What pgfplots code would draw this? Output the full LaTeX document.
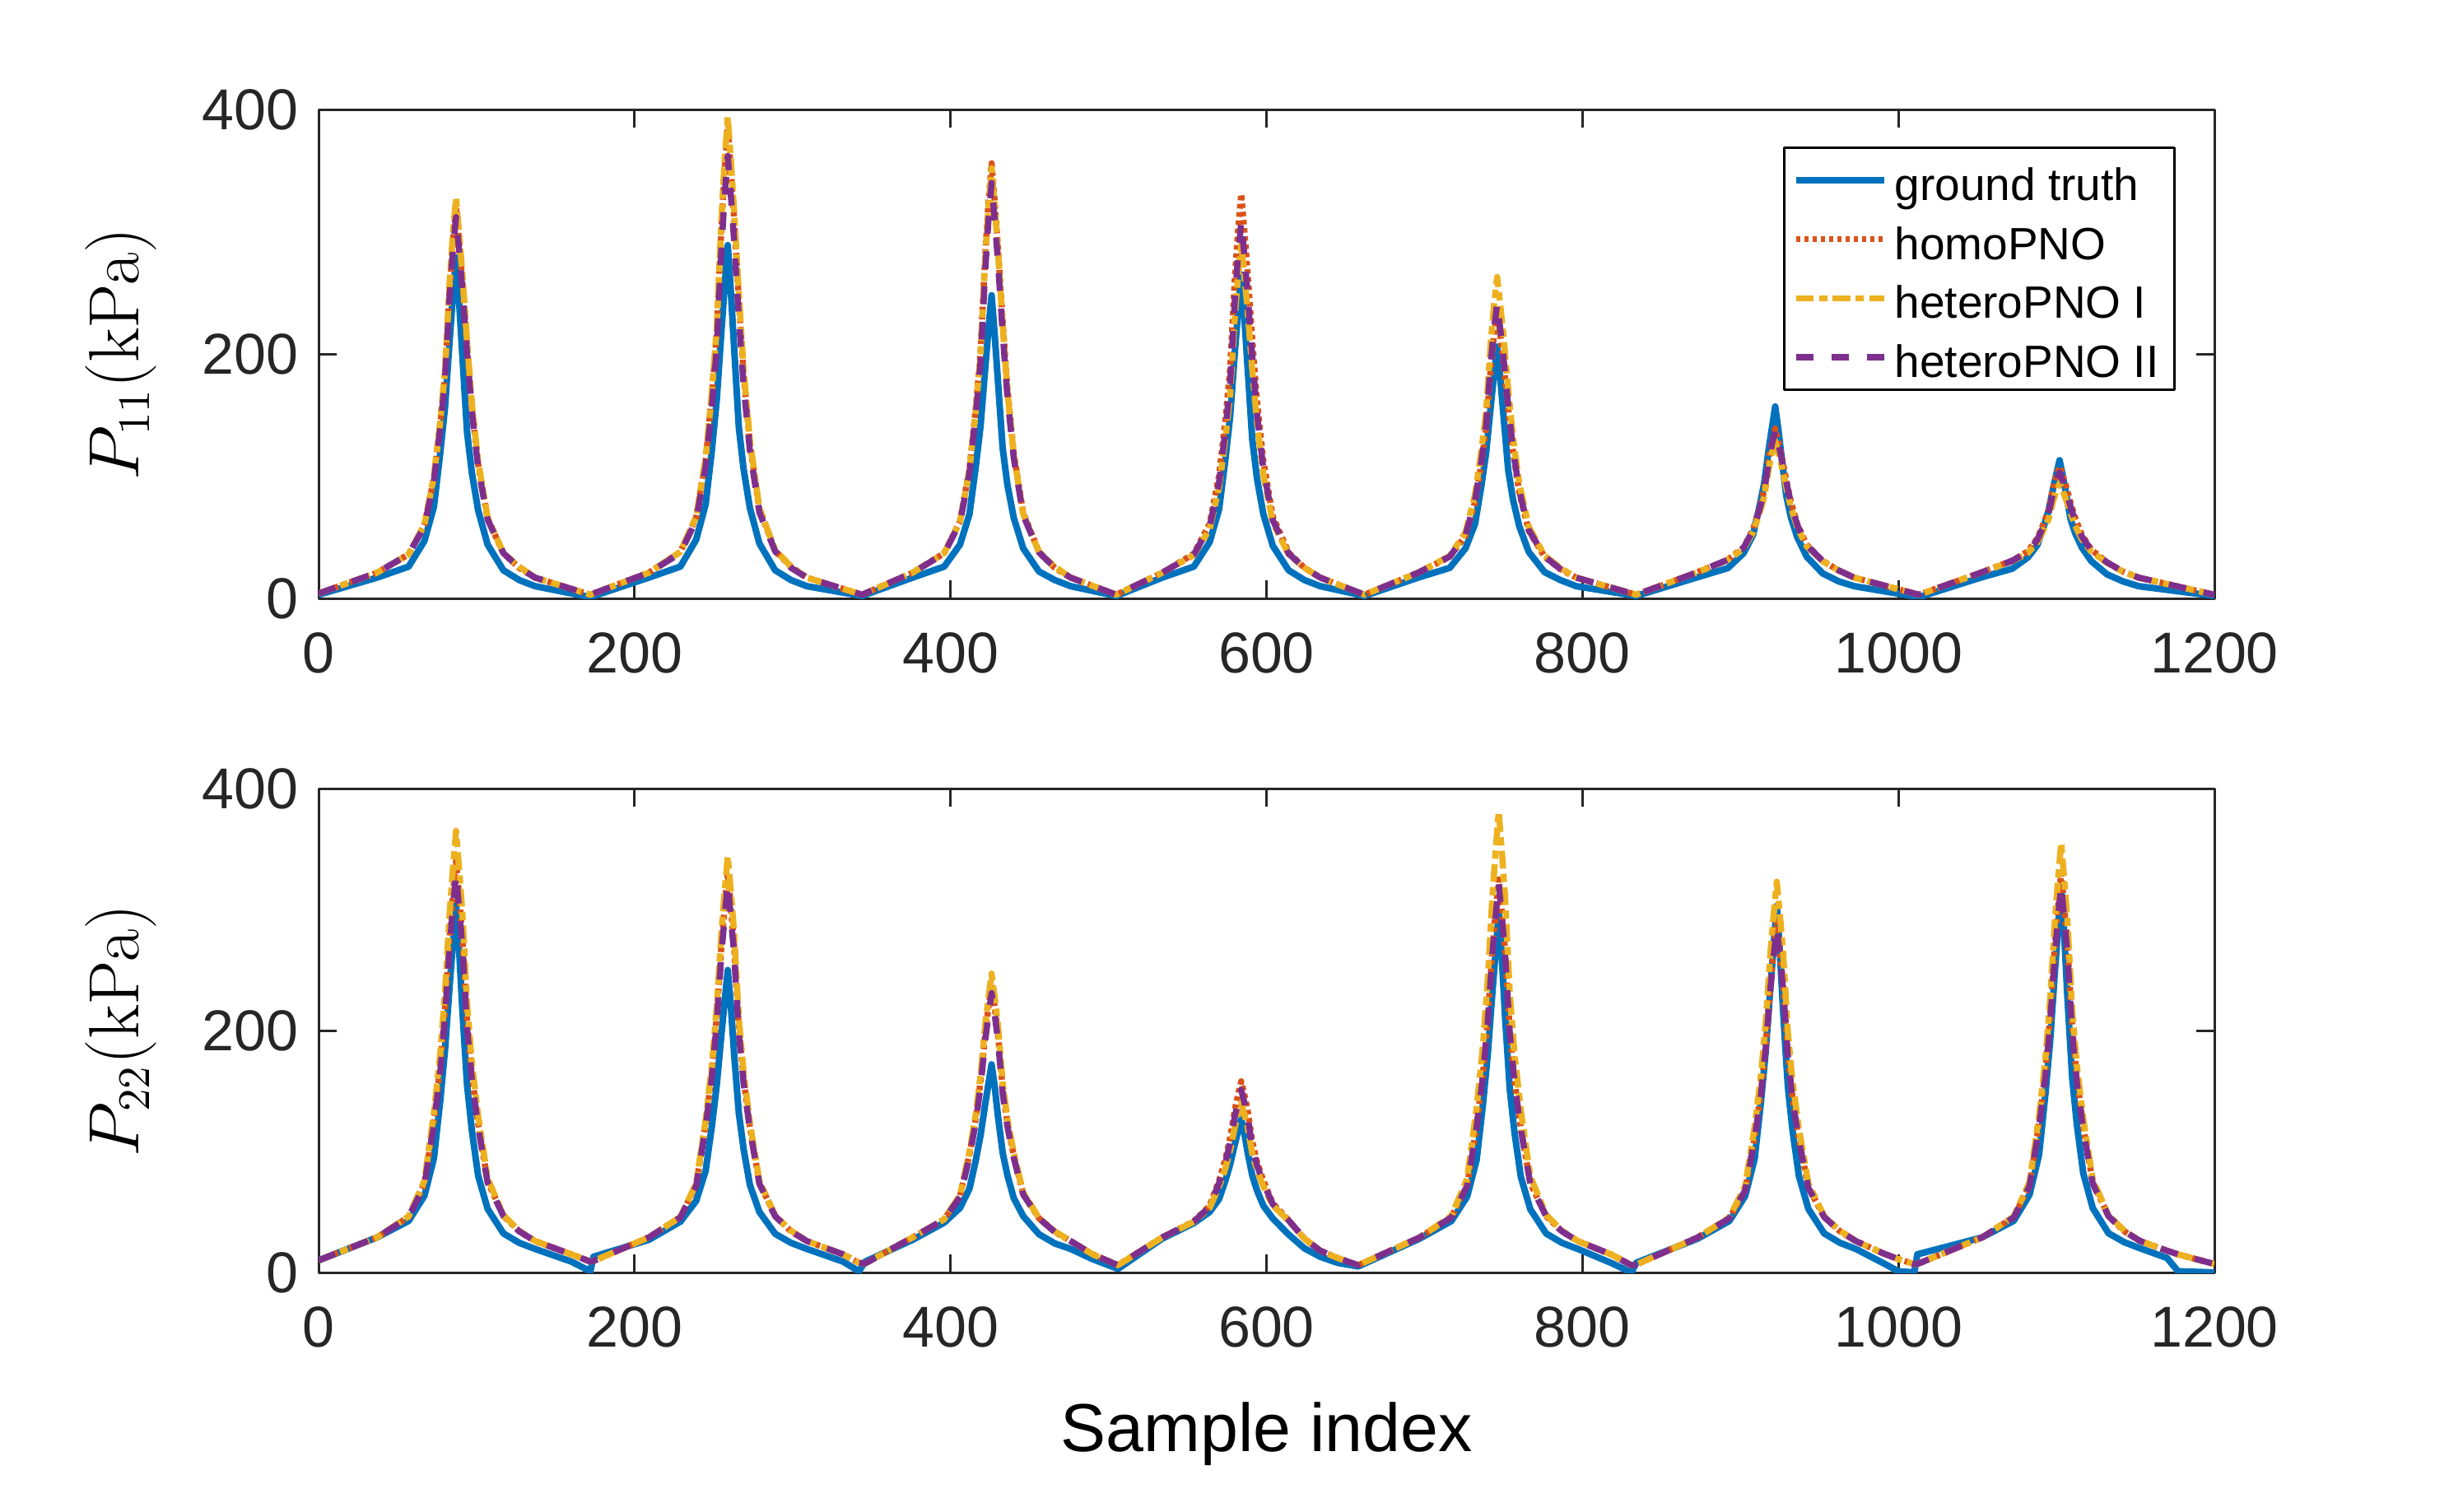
\documentclass[border=0pt]{standalone}
\usepackage[no-math]{fontspec}
\setmainfont{Liberation Sans}
\usepackage{pgfplots}
\usepackage{pgfplotstable}
\pgfplotsset{compat=1.18}

\definecolor{mblue}{rgb}{0,0.447,0.741}
\definecolor{mred}{rgb}{0.85,0.325,0.098}
\definecolor{myellow}{rgb}{0.929,0.694,0.125}
\definecolor{mpurple}{rgb}{0.494,0.184,0.556}
\definecolor{axgray}{rgb}{0.15,0.15,0.15}

% P11 panel: x, ground truth, homoPNO, heteroPNO I, heteroPNO II
\pgfplotstableread{
x gt homo hI hII
0 3 4 4 4
37 17 21 21 21
57 26 36 36 36
67 47 60 60.5 59
73 75 98 100 96
77 119 142 145 139
80 156 182 186 178
83 212 254 260 248
85 247 291 298.5 284
87 279 320 328 312
89 242 291 298.5 284
91 199 260 266 253
94 136 205 210 200
97 103 156 160 153
101 72 110 112 107
107 44 65 66 64.5
117 23 37 37 37
127 15 25 26 25
137 10 17 17 17
172 1 3 3 3
209 17 21 21 21
229 26 38 38 37
239 48 66 67 64
245 77 113 115 108
249 122 167 170 158
252 162 216 221 204
255 219 304 311 286
257 255 350 358 329
259 289 385 394 362
261 250 350 358 329
263 206 311 318 293
266 140 244 250 230
269 106 184 188 174.5
273 74 127 129.5 121
279 45 73 74 70.5
289 23 39 39.6 38.5
299 15 26 26 25
309 10 17 17 17
344 2 3 3 3
376 17 21 21 21
396 26 37 37 36.7
406 44 63 63 62
412 69 106 105 103
416 108 156 154 150
419 141 201 199 193
422 189 282 279 269
424 220 324 320 309
426 248 356 352 340
428 215 324 320 309
430 178 288 285 276
433 123 227 224 217
436 93 172 170 165
440 66 119 118 115
446 41 70 69 68
456 22 38 38 37.7
466 15 25 26 25
476 10 17 17 17
505 2 3 3 3
534 17 21 21 21
554 26 36.5 35.4 35.9
564 46 61 56.7 58.5
570 73 100.5 91 95
574 114 146 130.7 137.5
577 149 188 166.6 176
580 202 262.5 231 244.8
582 234 301 264 280.5
584 265 331 290 308
586 230 301 264 280.5
588 190 268 236 250
591 130 212 187 198
594 98 161 143.5 151
598 69 112.5 101.4 106
604 43 67 61.8 64
614 23 37.4 36 36.6
624 15 25 25 25
634 10 17 17 17
662 2 3 3 3
696 17 21 21 21
716 25 34 34.8 34.2
726 41 51.3 54 51.8
732 61 78.7 84.9 79.8
736 92 110 120.4 112
739 119 138.6 152.6 141
742 158 189 210 193
744 183 215.7 240 220
746 206 236 263 241
748 180 215.7 240 220
750 150 193 214.7 197
753 105 154.8 171 157.8
756 81 120.3 132 122.4
760 59 86.8 94 88
766 38 55.4 58.6 56
776 21.5 34.1 35 34.3
786 15 24 25 24
796 10 17 17 17
834 2 3 3 3
872 17 21 21 21
892 24.8 31.7 31.4 31.6
902 37 41.6 40.6 41.4
908 52 56.4 54 55.9
912 75 73.3 69.5 72.5
915 94 88 83 87
918 123 114.6 107 113
920 140 128.4 119.4 126.6
922 157 139 129 137
924 138 128.4 119.4 126.6
926 116 116.7 108.8 115
929 84 96.6 90.6 95.4
932 66 78.6 74.3 77.7
936 50 60.6 58 60
942 34 43.7 42.5 43.5
952 20.5 30.7 30.4 30.6
962 14 23 23 23
972 10 17 17 17
1013 1 3 3 3
1052 17 21 21 21
1072 24.3 30.9 30.5 30.8
1082 33.6 38.5 37.1 38
1088 43.8 49.3 46 48.1
1092 58.9 61.5 56.2 59.6
1095 71.8 72 64.7 69.4
1098 90.6 90.8 80 86.9
1100 102 100.5 87.9 96
1102 113 108 94 103
1104 100.5 100.5 87.9 96
1106 86.4 92.3 81.2 88.3
1109 64.7 78 69.6 75
1112 52.9 65.3 59.2 63.1
1116 41.9 52.3 48.5 50.9
1122 30.6 40 38.3 39.4
1132 19.7 29.6 29.1 29.5
1142 14 22 22 22
1152 10 17 17 17
1200 2 3 3 3
}\toptab

% P22 panel
\pgfplotstableread{
x gt homo hI hII
0 10 10 10 10
37 29 29 29 29
57 42.6 45.9 46.4 45.6
67 63.4 73.3 75.8 72.2
73 94.5 125 132 122
77 142 170 180.6 165.4
80 183.7 217 231.4 210.6
83 238 278.5 298 269.8
85 271.5 310.7 333 300.8
87 305 340 365 329
89 266.3 310.7 333 300.8
91 217.3 278.5 298 269.8
94 155 208 222 202
97 117.7 164 174 159.8
101 80 123 129.7 120.3
107 52.6 75.3 77.8 74.2
117 32.3 46.9 47.4 46.6
127 24.5 34 34.5 34
137 19.5 26 26 26
160 9 15 15 15
172 1 9 9 9
174 13 9.5 9.5 9.5
209 27 29 29 29
229 42 45.7 45.9 45.5
239 59.2 72.3 73.7 71.4
245 84 122.4 126.2 120
249 121.5 165.9 171.7 162
252 154.6 211 219.3 206
255 197 270.6 281.6 263.5
257 223.6 301.7 314.3 293.6
259 250 330 344 321
261 219.6 301.7 314.3 293.6
263 181 270.6 281.6 263.5
266 131.8 202.7 210.4 197.7
269 102.3 160.2 165.8 156.6
273 72.4 120.6 124.2 118.2
279 50.1 74.3 75.7 73.4
289 32 46.7 47 46.5
299 24.5 34 34.5 34
309 19.5 26 26 26
332 9 15 15 15
342 1 8 8 8
346 9 7.5 7.5 7.5
376 27 29 29 29
396 41.2 43.8 44 43.7
406 53.4 63.1 64 62.4
412 69.3 97.6 100 95.7
416 92.8 127.2 131 124.3
419 113.3 157.8 163 153.7
422 139.5 197.9 205 192.4
424 155.8 218.9 227 212.6
426 172 238 247 231
428 153.3 218.9 227 212.6
430 129.5 197.9 205 192.4
433 99 152 157 148.2
436 80.5 123.4 127 120.6
440 61.5 96.7 99 94.8
446 46.6 65.1 66 64.4
456 31.6 44.8 45 44.7
466 24 33.5 34 33.5
476 19.5 26 26 26
490 11 15 15 15
506 3 6 6 6
534 28 29 29 29
554 40.8 42.2 41.9 42.1
564 50 55.1 53.3 54.4
570 60.7 76 71.1 74
574 76.1 93.6 86 90.7
577 89.4 111.4 101 107.3
580 106.2 134.7 120.5 129.2
582 116.6 146.9 130.7 140.6
584 127 158 140 151
586 115 146.9 130.7 140.6
588 99.8 134.7 120.5 129.2
591 80.1 108 98 104.2
594 67.9 91.4 84.2 88.6
598 55.2 75.9 71.2 74
604 44.6 57.1 55.3 56.4
614 31.4 43.2 42.9 43.1
624 20 28 28 28
634 13 18 18 18
645 8 12 12 12
658 5 6 6 6
697 28 29 29 29
717 42.5 45.6 46.7 45.5
727 62.75 71.8 77.4 71.4
733 93 121 136.2 120
737 139 163.8 187.3 162
740 179.5 208.2 240.7 206
743 232 266.6 310.9 263.5
745 264.5 297.2 347.6 293.6
747 297 325 381 321
749 259.5 297.2 347.6 293.6
751 212 266.6 310.9 263.5
754 151.5 199.9 230.7 197.7
757 115.5 158.2 180.6 156.6
761 79 119.3 133.8 118.2
767 52.25 73.8 79.4 73.4
777 32.25 46.6 47.7 46.5
787 24.5 34 34.5 34
797 19.5 26 26 26
818 8 15 15 15
831 0 6 6 6
834 8 6.5 6.5 6.5
873 28 29 29 29
893 42.6 44.9 45.5 44.8
903 63.2 68.3 71.6 67.8
909 94.1 111.6 120.5 110.3
913 141.2 149 163 147
916 182.7 188 207 185
919 236.4 239 265 235
921 269.7 265.7 295.4 261
923 303 290 323 285
925 264.6 265.7 295.4 261
927 216 239 265 235
930 154 180.7 198.8 178
933 117.2 144.2 157.4 142.2
937 79.8 110.2 118.8 108.9
943 52.5 70.3 73.6 69.8
953 32.3 45.9 46.5 45.8
963 24.5 34 34.5 34
973 19.5 26 26 26
990 8 16 16 16
1000 1 11 11 11
1010 0 7 7 7
1012 15 7 7 7
1053 29 29 29 29
1073 42.7 45.7 46.2 45.5
1083 64.4 72.3 74.8 71.3
1089 97.2 122.4 129.2 119.7
1093 147.1 165.9 176.4 161.7
1096 191 211 225.6 205.3
1099 248.3 270.6 290.3 262.7
1101 283.6 301.7 324.2 292.7
1103 319 330 355 320
1105 278.2 301.7 324.2 292.7
1107 226.5 270.6 290.3 262.7
1110 160.7 202.7 216.4 197
1113 121.7 160.2 170.2 156.2
1117 82 120.6 127 118
1123 53.2 74.3 76.8 73.3
1133 32.4 46.7 47.2 46.5
1143 25 34 34.5 34
1153 20 26 26 26
1170 12 18 18 18
1177 1 15 15 15
1200 0 7 7 7
}\bottab

\pgfplotsset{
  panel/.style={
    scale only axis, width=460.6pt,
    xmin=0, xmax=1200, ymin=0, ymax=400,
    xtick={0,200,...,1200}, ytick={0,200,400},
    tick align=inside, tick pos=both,
    major tick length=4.4pt,
    every tick/.style={axgray, line width=0.6pt},
    axis line style={axgray, line width=0.6pt},
    tick label style={font=\fontsize{14}{16}\selectfont, text=axgray},
    xticklabel style={inner sep=0pt, yshift=-8.2pt},
    yticklabel style={inner sep=0pt, xshift=-4.8pt},
    /pgf/number format/assume math mode=true,
    /pgf/number format/set thousands separator={},
    scaled ticks=false,
    ylabel style={at={(axis description cs:-0.1042,0.5)}, anchor=center,
      font=\fontsize{16}{19}\selectfont},
    line join=round,
  },
  gtline/.style={mblue, line width=1.6pt, solid},
  homoline/.style={mred, line width=1.5pt, dash pattern=on 1.1pt off 0.9pt},
  hIline/.style={myellow, line width=1.5pt, dash pattern=on 4.3pt off 1.3pt on 2pt off 1.3pt},
  hIIline/.style={mpurple, line width=1.5pt, dash pattern=on 4.3pt off 4.3pt},
}

\begin{document}
\begin{tikzpicture}
\path[use as bounding box] (0,0) rectangle (595pt,-367.2pt);

\begin{axis}[panel,
  at={(77.4pt,-26.6pt)}, anchor=north west, height=118.8pt,
  ylabel={$P_{11}\mathrm{(kPa)}$},
  legend image code/.code={\draw[#1] (0pt,0pt) -- (21.4pt,0pt);},
  legend style={at={(rel axis cs:0.9796,0.9242)}, anchor=north east,
    draw=black, line width=0.6pt, fill=white,
    font=\fontsize{11}{13}\selectfont,
    inner xsep=2pt, inner ysep=0.73pt, row sep=0pt,
    cells={anchor=west},
    nodes={inner xsep=1.8pt, inner ysep=0pt, text height=12.07pt, text depth=2.27pt}},
]
\addplot[gtline] table[x=x,y=gt]{\toptab};
\addlegendentry{ground truth}
\addplot[homoline] table[x=x,y=homo]{\toptab};
\addlegendentry{homoPNO}
\addplot[hIline] table[x=x,y=hI]{\toptab};
\addlegendentry{heteroPNO I}
\addplot[hIIline] table[x=x,y=hII]{\toptab};
\addlegendentry{heteroPNO II}
\end{axis}

\begin{axis}[panel,
  at={(77.4pt,-191.6pt)}, anchor=north west, height=117.6pt,
  ylabel={$P_{22}\mathrm{(kPa)}$},
  xlabel={Sample index},
  xlabel style={at={(axis description cs:0.5,0)}, anchor=north, inner sep=0pt,
    yshift=-31.4pt, font=\fontsize{16.5}{19}\selectfont},
]
\addplot[gtline] table[x=x,y=gt]{\bottab};
\addplot[homoline] table[x=x,y=homo]{\bottab};
\addplot[hIline] table[x=x,y=hI]{\bottab};
\addplot[hIIline] table[x=x,y=hII]{\bottab};
\end{axis}
\end{tikzpicture}
\end{document}
